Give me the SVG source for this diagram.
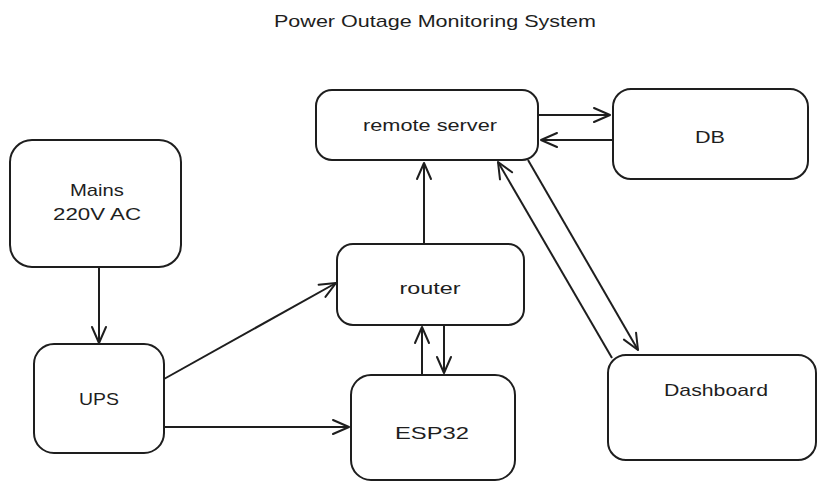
<svg xmlns="http://www.w3.org/2000/svg" width="826" height="491" viewBox="0 0 826 491">
<style>
.box{fill:#fff;stroke:#1e1e1e;stroke-width:2}
.lbl{font-family:"Liberation Sans",Arial,sans-serif;font-size:17px;fill:#1e1e1e;text-anchor:middle;dominant-baseline:central}
.ln{fill:none;stroke:#1e1e1e;stroke-width:2}
</style>
<defs>
<marker id="ah" viewBox="0 0 20 20" refX="18" refY="10" markerWidth="20" markerHeight="20" markerUnits="userSpaceOnUse" orient="auto">
<path d="M2,3 L18,10 L2,17" fill="none" stroke="#1e1e1e" stroke-width="2" stroke-linecap="round" stroke-linejoin="round"/>
</marker>
</defs>
<rect width="826" height="491" fill="#fff"/>
<text class="lbl" x="435" y="21" font-size="16" textLength="322" lengthAdjust="spacingAndGlyphs">Power Outage Monitoring System</text>
<g id="connectors">
<line class="ln" x1="99" y1="267" x2="99" y2="343" marker-end="url(#ah)"/>
<line class="ln" x1="164" y1="379" x2="336" y2="283" marker-end="url(#ah)"/>
<line class="ln" x1="164" y1="427" x2="349" y2="427" marker-end="url(#ah)"/>
<line class="ln" x1="424" y1="244" x2="424" y2="163" marker-end="url(#ah)"/>
<line class="ln" x1="422" y1="374" x2="422" y2="327" marker-end="url(#ah)"/>
<line class="ln" x1="444" y1="325" x2="444" y2="373" marker-end="url(#ah)"/>
<line class="ln" x1="538" y1="115" x2="610" y2="115" marker-end="url(#ah)"/>
<line class="ln" x1="613" y1="140" x2="541" y2="140" marker-end="url(#ah)"/>
<line class="ln" x1="528" y1="160" x2="638" y2="350" marker-end="url(#ah)"/>
<line class="ln" x1="612" y1="358" x2="498" y2="162" marker-end="url(#ah)"/>
</g>
<g id="remote-server">
<rect class="box" x="316" y="90" width="222" height="70" rx="16"/>
<text class="lbl" x="430" y="125" textLength="134" lengthAdjust="spacingAndGlyphs">remote server</text>
</g>
<g id="db">
<rect class="box" x="613" y="89" width="195" height="90" rx="18"/>
<text class="lbl" x="710" y="137" textLength="30" lengthAdjust="spacingAndGlyphs">DB</text>
</g>
<g id="mains">
<rect class="box" x="10" y="140" width="171" height="127" rx="22"/>
<text class="lbl" x="97" y="190" textLength="54" lengthAdjust="spacingAndGlyphs">Mains</text>
<text class="lbl" x="97" y="214" textLength="88" lengthAdjust="spacingAndGlyphs">220V AC</text>
</g>
<g id="ups">
<rect class="box" x="34" y="344" width="130" height="109" rx="20"/>
<text class="lbl" x="99" y="399" textLength="40" lengthAdjust="spacingAndGlyphs">UPS</text>
</g>
<g id="router">
<rect class="box" x="337" y="244" width="187" height="81" rx="16"/>
<text class="lbl" x="430" y="288" textLength="61" lengthAdjust="spacingAndGlyphs">router</text>
</g>
<g id="esp32">
<rect class="box" x="351" y="375" width="164" height="105" rx="20"/>
<text class="lbl" x="432" y="433" textLength="74" lengthAdjust="spacingAndGlyphs">ESP32</text>
</g>
<g id="dashboard">
<rect class="box" x="608" y="355" width="208" height="105" rx="18"/>
<text class="lbl" x="716" y="390" textLength="104" lengthAdjust="spacingAndGlyphs">Dashboard</text>
</g>
</svg>
